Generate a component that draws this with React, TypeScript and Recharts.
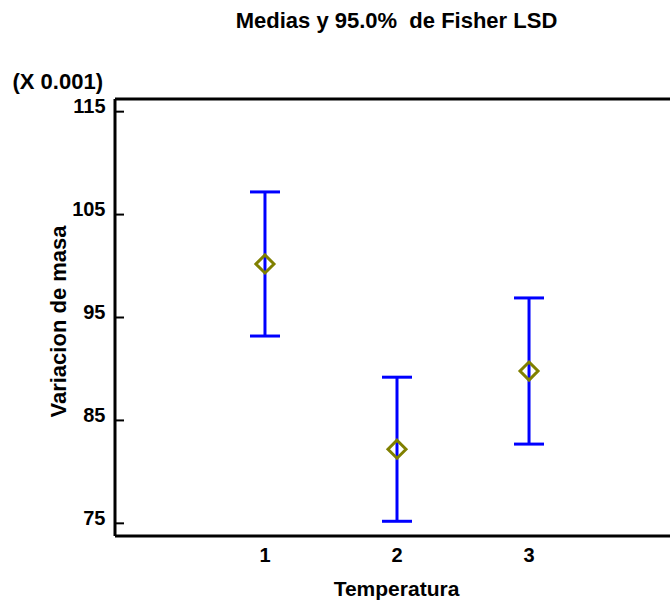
import * as React from 'react'
import {
  ScatterChart,
  Scatter,
  XAxis,
  YAxis,
  ErrorBar,
} from 'recharts'

// Fisher LSD means per temperature level (values x 0.001)
const levels = [1, 2, 3]
const means = [100.2, 82.2, 89.8]
const halfIntervals = [7.0, 7.0, 7.1]

const yTicks = [75, 85, 95, 105, 115]
const yDomain = [73.77, 116.23]
const xDomain = [-0.136, 4.136]

const FONT = '"Liberation Sans", Arial, sans-serif'

const data = levels.map((lvl, i) => ({ x: lvl, y: means[i], err: halfIntervals[i] }))

function Diamond(props: any) {
  const { cx, cy } = props
  if (cx == null || cy == null) return null
  const r = 9
  return (
    <path
      d={`M${cx},${cy - r}L${cx + r},${cy}L${cx},${cy + r}L${cx - r},${cy}Z`}
      fill='none'
      stroke='#808000'
      strokeWidth={3}
    />
  )
}

function YTick(props: any) {
  const { x, y, payload } = props
  return (
    <text x={x} y={y + 1.5} textAnchor='end' fontFamily={FONT} fontSize={20} fontWeight='bold' fill='#000'>
      {payload.value}
    </text>
  )
}

function XTick(props: any) {
  const { x, y, payload } = props
  return (
    <text x={x} y={y + 25.5} textAnchor='middle' fontFamily={FONT} fontSize={20} fontWeight='bold' fill='#000'>
      {payload.value}
    </text>
  )
}

export default function App() {
  return (
    <div style={{ position: 'fixed', left: 0, top: 0, width: 670, height: 601, overflow: 'hidden', background: '#fff' }}>
      <ScatterChart width={690} height={601} margin={{ top: 0, right: 0, bottom: 0, left: 0 }}>
        <XAxis
          xAxisId='top'
          orientation='top'
          type='number'
          dataKey='x'
          domain={xDomain}
          allowDataOverflow
          height={99}
          tick={false}
          tickLine={false}
          axisLine={{ stroke: '#000', strokeWidth: 3 }}
        />
        <XAxis
          type='number'
          dataKey='x'
          domain={xDomain}
          allowDataOverflow
          ticks={levels}
          height={65}
          tickLine={false}
          tickSize={0}
          tickMargin={0}
          tick={<XTick />}
          axisLine={{ stroke: '#000', strokeWidth: 3 }}
        />
        <YAxis
          type='number'
          dataKey='y'
          domain={yDomain}
          allowDataOverflow
          ticks={yTicks}
          width={115}
          tickSize={-9}
          tickMargin={18.5}
          tick={<YTick />}
          tickLine={{ stroke: '#000', strokeWidth: 2 }}
          axisLine={{ stroke: '#000', strokeWidth: 3 }}
        />
        <YAxis
          yAxisId='right'
          orientation='right'
          type='number'
          domain={yDomain}
          allowDataOverflow
          ticks={yTicks}
          width={11}
          tickSize={-9}
          tick={false}
          tickLine={{ stroke: '#000', strokeWidth: 2 }}
          axisLine={{ stroke: '#000', strokeWidth: 3 }}
        />
        <Scatter data={data} shape={<Diamond />} isAnimationActive={false}>
          <ErrorBar dataKey='err' direction='y' width={15} stroke='#0000FF' strokeWidth={3} isAnimationActive={false} />
        </Scatter>
      </ScatterChart>
      <svg width={670} height={601} style={{ position: 'absolute', left: 0, top: 0, pointerEvents: 'none' }}>
        <g fontFamily={FONT} fontWeight='bold' fill='#000'>
          <text x={396.5} y={27.5} textAnchor='middle' fontSize={22} style={{ whiteSpace: 'pre' }}>
            {'Medias y 95.0%  de Fisher LSD'}
          </text>
          <text x={12.5} y={88.5} fontSize={22}>(X 0.001)</text>
          <text x={396.5} y={596} textAnchor='middle' fontSize={21}>Temperatura</text>
          <text x={66} y={321.5} textAnchor='middle' fontSize={22} transform='rotate(-90 66 321.5)'>
            Variacion de masa
          </text>
        </g>
      </svg>
    </div>
  )
}
